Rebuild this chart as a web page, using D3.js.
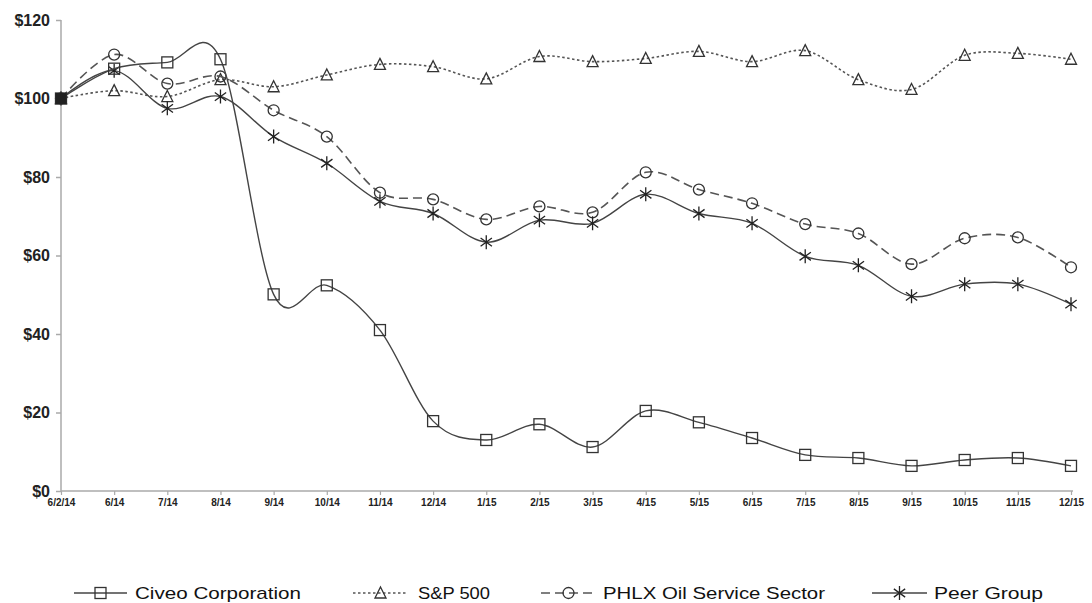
<!DOCTYPE html>
<html><head><meta charset="utf-8">
<script src="https://cdn.jsdelivr.net/npm/d3@7/dist/d3.min.js"></script>
<style>body{margin:0;background:#fff}svg{display:block}</style>
</head><body>
<svg id="c" width="1092" height="603"></svg>
<script>
const categories = ["6/2/14","6/14","7/14","8/14","9/14","10/14","11/14","12/14","1/15","2/15","3/15","4/15","5/15","6/15","7/15","8/15","9/15","10/15","11/15","12/15"];
const civeo = [100,107.6,109.2,110,50.1,52.4,41,17.8,13,17,11.2,20.4,17.5,13.5,9.2,8.4,6.4,7.9,8.4,6.4];
const sp500 = [100,102,100.5,104.8,103,106,108.7,108.1,105,110.7,109.4,110.2,112,109.4,112.2,104.8,102.3,111,111.5,110];
const phlx = [100,111.2,103.8,105.6,97,90.3,76,74.3,69.2,72.5,71,81.2,76.8,73.3,68,65.6,57.8,64.4,64.6,57];
const peer = [100,107.1,97.5,100.5,90.3,83.5,73.8,70.7,63.4,69,68.2,75.6,70.7,68.2,59.8,57.5,49.6,52.7,52.7,47.6];
const yTicks = [0,20,40,60,80,100,120];
const seriesNames = ["Civeo Corporation","S&P 500","PHLX Oil Service Sector","Peer Group"];

const svg = d3.select("#c");
const x = d3.scalePoint().domain(categories).range([61,1071]);
const y = d3.scaleLinear().domain([0,120]).range([491,20]);

// axes
const yAxis = svg.append("g").attr("transform","translate(61,0)")
  .call(d3.axisLeft(y).tickValues(yTicks).tickSize(5).tickFormat(d=>"$"+d));
yAxis.select(".domain").attr("stroke","#aaa").attr("stroke-width",1.5).attr("d","M0,20V491");
yAxis.selectAll(".tick line").attr("stroke","#aaa").attr("stroke-width",1.5);
yAxis.selectAll(".tick text").attr("font-family","Liberation Sans, Arial, sans-serif")
  .attr("font-size",16).attr("font-weight","bold").attr("fill","#222").attr("x",-11);

const xAxis = svg.append("g").attr("transform","translate(0,491)")
  .call(d3.axisBottom(x).tickSize(4).tickSizeOuter(0));
xAxis.select(".domain").attr("stroke","#aaa").attr("stroke-width",1.5).attr("d","M61,0H1073");
xAxis.selectAll(".tick line").attr("stroke","#aaa").attr("stroke-width",1.2);
xAxis.selectAll(".tick text").attr("font-family","Liberation Sans, Arial, sans-serif")
  .attr("font-size",10).attr("font-weight","bold").attr("fill","#222").attr("y",8);

const curve = d3.curveCardinal.tension(0);
const line = d3.line().x((d,i)=>x(categories[i])).y(d=>y(d)).curve(curve);

const styles = [
  {data:civeo, dash:null, color:"#444", w:1.4, marker:"square"},
  {data:sp500, dash:"2.5,2.5", color:"#555", w:1.6, marker:"triangle"},
  {data:phlx, dash:"9,5", color:"#555", w:1.6, marker:"circle"},
  {data:peer, dash:null, color:"#444", w:1.4, marker:"star"}
];

function drawMarker(g, type, cx, cy){
  const s = "#333";
  if(type==="square"){
    g.append("rect").attr("x",cx-5.5).attr("y",cy-5.5).attr("width",11).attr("height",11)
      .attr("fill","none").attr("stroke",s).attr("stroke-width",1.3);
  } else if(type==="triangle"){
    g.append("path").attr("d",`M${cx},${cy-6}L${cx+5.5},${cy+5}L${cx-5.5},${cy+5}Z`)
      .attr("fill","none").attr("stroke",s).attr("stroke-width",1.3);
  } else if(type==="circle"){
    g.append("circle").attr("cx",cx).attr("cy",cy).attr("r",5.5)
      .attr("fill","none").attr("stroke",s).attr("stroke-width",1.3);
  } else {
    const r=7, a=Math.PI/5;
    const dx=r*Math.cos(a), dy=r*Math.sin(a);
    g.append("path").attr("d",`M${cx},${cy-r}V${cy+r}M${cx-dx},${cy-dy}L${cx+dx},${cy+dy}M${cx-dx},${cy+dy}L${cx+dx},${cy-dy}`)
      .attr("fill","none").attr("stroke","#222").attr("stroke-width",1.3);
  }
}

[1,2,3,0].forEach(k=>{
  const st = styles[k];
  const g = svg.append("g");
  g.append("path").datum(st.data).attr("d",line).attr("fill","none")
    .attr("stroke",st.color).attr("stroke-width",st.w)
    .attr("stroke-dasharray",st.dash);
  st.data.forEach((v,i)=>drawMarker(g, st.marker, x(categories[i]), y(v)));
});
// overlapped start point appears filled
svg.append("rect").attr("x",x(categories[0])-5.5).attr("y",y(civeo[0])-5.5).attr("width",11).attr("height",11).attr("fill","#222");

// legend
const legendX = [[74,127,135],[353,408,418],[541,596,603],[872,927,934]];
const legendW = [166,72,222,109];
const ly = 593;
styles.forEach((st,k)=>{
  const [a,b,t] = legendX[k];
  const g = svg.append("g");
  g.append("line").attr("x1",a).attr("x2",b).attr("y1",ly).attr("y2",ly)
    .attr("stroke",st.color).attr("stroke-width",st.w).attr("stroke-dasharray",st.dash);
  drawMarker(g, st.marker, (a+b)/2, ly);
  g.append("text").attr("x",t).attr("y",ly+6).text(seriesNames[k])
    .attr("font-family","Liberation Sans, Arial, sans-serif").attr("font-size",17)
    .attr("fill","#111").attr("textLength",legendW[k]).attr("lengthAdjust","spacingAndGlyphs");
});
</script>
</body></html>
